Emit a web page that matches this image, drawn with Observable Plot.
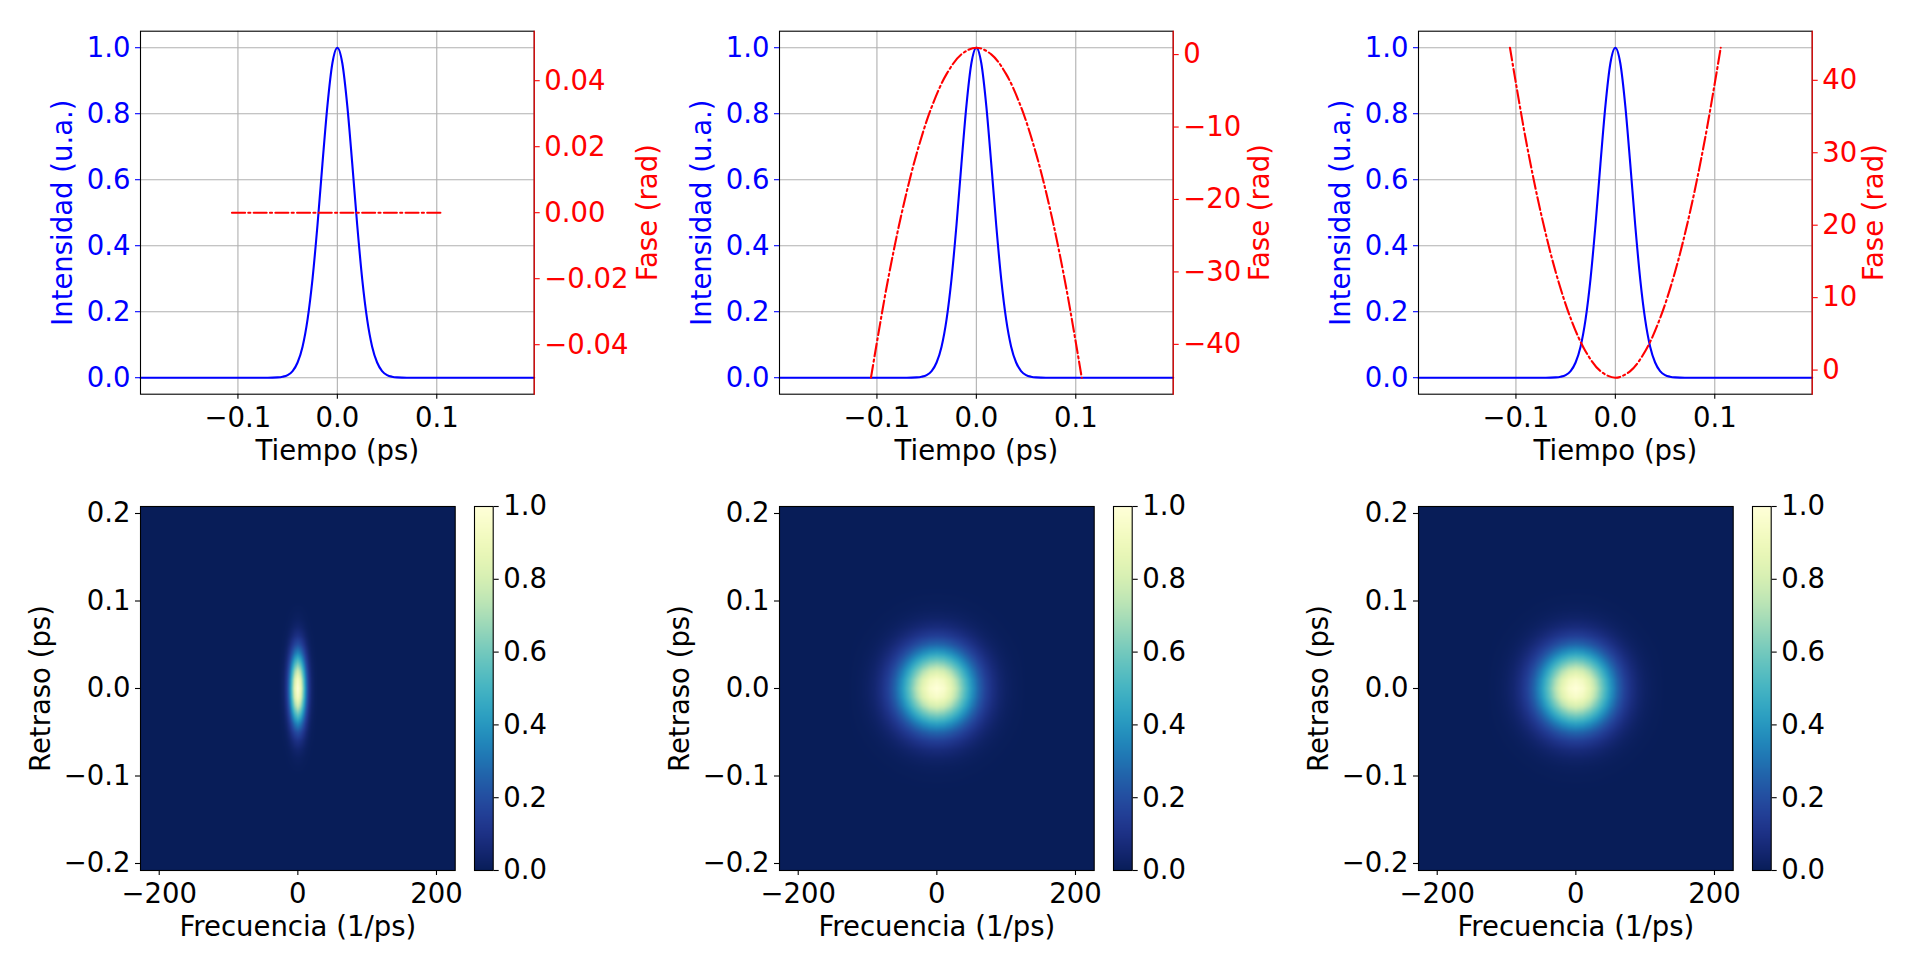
<!DOCTYPE html>
<html><head><meta charset="utf-8">
<script src="https://cdn.jsdelivr.net/npm/d3@7"></script>
<script src="https://cdn.jsdelivr.net/npm/@observablehq/plot@0.6"></script>
<style>
html,body{margin:0;padding:0;background:#fff;overflow:hidden;}
#fig{position:relative;width:1920px;height:971px;}
#fig > svg, #fig > figure{position:absolute;left:0;top:0;margin:0;}
</style></head><body><div id="fig"></div>
<script>
// ---------- data ----------
const pulseTime = [-0.198,-0.07,-0.06,-0.055,-0.05,-0.045,-0.04,-0.035,-0.03,-0.025,-0.02,-0.015,-0.01,-0.005,0,0.005,0.01,0.015,0.02,0.025,0.03,0.035,0.04,0.045,0.05,0.055,0.06,0.07,0.198];
const pulseIntensity = [0,0,0.001,0.003,0.008,0.020,0.046,0.094,0.176,0.299,0.462,0.648,0.824,0.953,1,0.953,0.824,0.648,0.462,0.299,0.176,0.094,0.046,0.020,0.008,0.003,0.001,0,0];

const phaseTime = [-0.106,-0.09,-0.075,-0.06,-0.045,-0.03,-0.015,0,0.015,0.03,0.045,0.06,0.075,0.09,0.106];
const phaseFlat = [0,0,0,0,0,0,0,0,0,0,0,0,0,0,0];
const phaseDown = [-44.6,-31.9,-21.85,-13.64,-7.26,-2.70,0.04,0.95,0.04,-2.70,-7.26,-13.64,-21.85,-31.9,-44.6];
const phaseUp = [44.5,31.79,21.75,13.54,7.16,2.60,-0.14,-1.05,-0.14,2.60,7.16,13.54,21.75,31.79,44.5];

const timeTicks = [-0.1,0,0.1];
const intensityTicks = [0,0.2,0.4,0.6,0.8,1.0];
const phaseTicksA = [-0.04,-0.02,0,0.02,0.04];
const phaseTicksB = [-40,-30,-20,-10,0];
const phaseTicksC = [0,10,20,30,40];
const freqTicks = [-200,0,200];
const delayTicks = [-0.2,-0.1,0,0.1,0.2];
const cbarTicks = [0,0.2,0.4,0.6,0.8,1.0];

// trace profiles (|frequency| in 1/ps, |delay| in ps)
const freqSamplesA = [0,4,8,12,16,20,25,30];
const freqProfileA = [1,0.88,0.61,0.32,0.135,0.044,0.008,0];
const delaySamplesA = [0,0.01,0.02,0.03,0.04,0.05,0.06,0.07,0.08,0.09,0.1];
const delayProfileA = [1,0.938,0.775,0.563,0.360,0.203,0.101,0.044,0.017,0.006,0];
const freqSamplesB = [0,10,20,30,40,50,60,70,80,90,100,110,120,130];
const freqProfileB = [1,0.964,0.864,0.720,0.557,0.401,0.269,0.167,0.097,0.052,0.026,0.012,0.005,0];
const delaySamplesB = [0,0.01,0.02,0.03,0.04,0.05,0.06,0.07,0.08,0.09,0.1,0.11,0.12];
const delayProfileB = [1,0.949,0.812,0.626,0.435,0.272,0.154,0.078,0.036,0.015,0.006,0.002,0];

const labels = {
  intensity: "Intensidad (u.a.)", phase: "Fase (rad)", time: "Tiempo (ps)",
  freq: "Frecuencia (1/ps)", delay: "Retraso (ps)"
};

// ---------- layout ----------
const W = 1920, H = 971;
const colX = [140, 779, 1418];
const topT = 30.7, topB = 393.7, topW = 393.7;
const botT = 506, botB = 870, mapW = 314.7, cbL = 334, cbR = 352.7;
const FONT = 27.5;
const fig = document.getElementById("fig");

function mk(L, R, T, B, opts) {
  const p = Plot.plot({
    width: W, height: H,
    marginLeft: L, marginRight: W - R, marginTop: T, marginBottom: H - B,
    style: {background: "transparent", fontFamily: "DejaVu Sans, sans-serif", fontSize: FONT + "px", overflow: "visible"},
    ...opts
  });
  fig.appendChild(p);
  return p;
}
const f1 = d3.format(".1f"), f2 = d3.format(".2f"), fd = d3.format("d");
const axOpts = {tickSize: 5, tickPadding: 5, strokeWidth: 1.1, fontSize: FONT, label: null};
const lbl = {text: d => d, textAnchor: "middle", lineAnchor: "middle", fontSize: FONT};

const phases = [
  {values: phaseFlat, domain: [-0.055, 0.055], ticks: phaseTicksA, fmt: f2, labelDx: 114},
  {values: phaseDown, domain: [-46.88, 3.23], ticks: phaseTicksB, fmt: fd, labelDx: 87},
  {values: phaseUp, domain: [-3.33, 46.78], ticks: phaseTicksC, fmt: fd, labelDx: 62}
];
const traces = [
  {fs: freqSamplesA, fp: freqProfileA, ds: delaySamplesA, dp: delayProfileA},
  {fs: freqSamplesB, fp: freqProfileB, ds: delaySamplesB, dp: delayProfileB},
  {fs: freqSamplesB, fp: freqProfileB, ds: delaySamplesB, dp: delayProfileB}
];

const pulse = pulseTime.map((t, i) => ({t, v: pulseIntensity[i]}));

colX.forEach((L, i) => {
  const R = L + topW;
  // intensity axes
  mk(L, R, topT, topB, {
    x: {domain: [-0.198, 0.198]},
    y: {domain: [-0.05, 1.05]},
    marks: [
      Plot.gridX(timeTicks, {stroke: "#b0b0b0", strokeOpacity: 1, strokeWidth: 1.1}),
      Plot.gridY(intensityTicks, {stroke: "#b0b0b0", strokeOpacity: 1, strokeWidth: 1.1}),
      Plot.line(pulse, {x: "t", y: "v", stroke: "#0000ff", strokeWidth: 2.1, curve: "monotone-x"}),
      Plot.frame({stroke: "black", strokeWidth: 1.1}),
      Plot.axisX({...axOpts, ticks: timeTicks, tickFormat: f1, color: "black", tickPadding: 8}),
      Plot.axisY({...axOpts, ticks: intensityTicks, tickFormat: f1, color: "#0000ff"}),
      Plot.text([labels.intensity], {...lbl, frameAnchor: "left", dx: -77, rotate: -90, fill: "#0000ff"}),
      Plot.text([labels.time], {...lbl, frameAnchor: "bottom", dy: 56.5, fill: "black"})
    ]
  });
  // phase axes (twin)
  const ph = phases[i];
  const phaseData = phaseTime.map((t, k) => ({t, v: ph.values[k]}));
  mk(L, R, topT, topB, {
    x: {domain: [-0.198, 0.198], axis: null},
    y: {domain: ph.domain},
    marks: [
      Plot.line(phaseData, {x: "t", y: "v", stroke: "#ff0000", strokeWidth: 2.1, strokeDasharray: "13,3.3,2.1,3.3", curve: "catmull-rom"}),
      Plot.frame({anchor: "right", stroke: "#ff0000", strokeWidth: 1.1}),
      Plot.axisY({...axOpts, anchor: "right", ticks: ph.ticks, tickFormat: ph.fmt, color: "#ff0000"}),
      Plot.text([labels.phase], {...lbl, frameAnchor: "right", dx: ph.labelDx, rotate: -90, fill: "#ff0000"})
    ]
  });

  // trace heatmap
  const tr = traces[i];
  const fInterp = d3.scaleLinear().domain(tr.fs).range(tr.fp).clamp(true);
  const dInterp = d3.scaleLinear().domain(tr.ds).range(tr.dp).clamp(true);
  mk(L, L + mapW, botT, botB, {
    x: {domain: [-227, 227]},
    y: {domain: [-0.208, 0.208]},
    color: {type: "linear", scheme: "YlGnBu", reverse: true, domain: [0, 1]},
    marks: [
      Plot.raster({x1: -227, x2: 227, y1: -0.208, y2: 0.208, fill: (x, y) => fInterp(Math.abs(x)) * dInterp(Math.abs(y))}),
      Plot.frame({stroke: "black", strokeWidth: 1.1}),
      Plot.axisX({...axOpts, ticks: freqTicks, tickFormat: fd, color: "black", tickPadding: 8}),
      Plot.axisY({...axOpts, ticks: delayTicks, tickFormat: f1, color: "black"}),
      Plot.text([labels.delay], {...lbl, frameAnchor: "left", dx: -99, rotate: -90, fill: "black"}),
      Plot.text([labels.freq], {...lbl, frameAnchor: "bottom", dy: 56.5, fill: "black"})
    ]
  });
  // colorbar
  mk(L + cbL, L + cbR, botT, botB, {
    x: {domain: [0, 1], axis: null},
    y: {domain: [0, 1]},
    color: {type: "linear", scheme: "YlGnBu", reverse: true, domain: [0, 1]},
    marks: [
      Plot.raster({x1: 0, x2: 1, y1: 0, y2: 1, fill: (x, y) => y}),
      Plot.frame({stroke: "black", strokeWidth: 1.1}),
      Plot.axisY({...axOpts, anchor: "right", ticks: cbarTicks, tickFormat: f1, color: "black"})
    ]
  });
});
</script></body></html>
